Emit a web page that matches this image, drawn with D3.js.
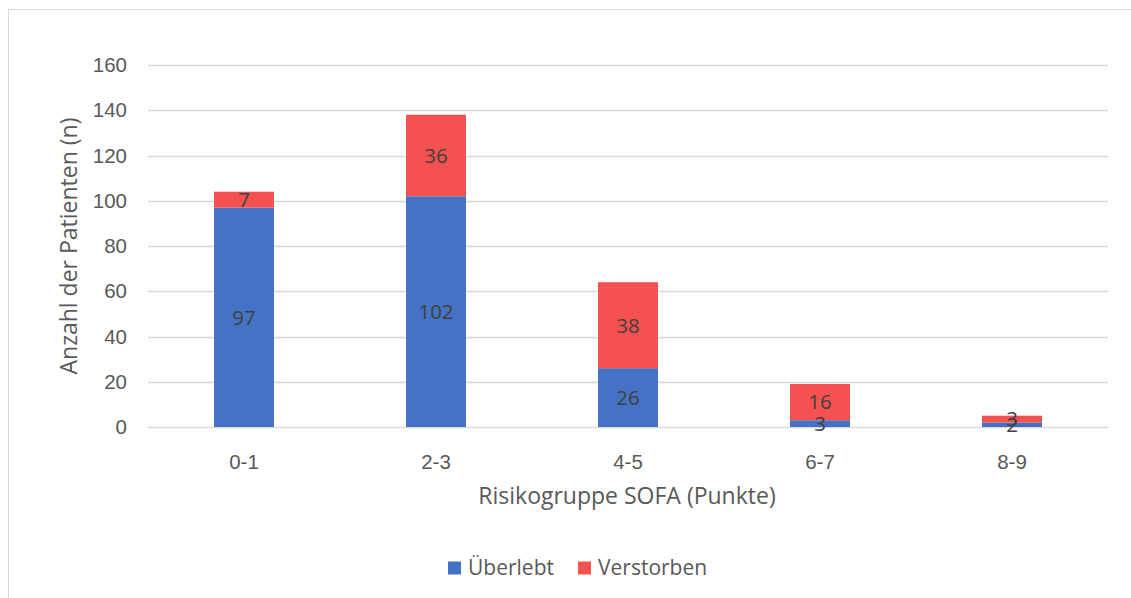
<!DOCTYPE html>
<html>
<head>
<meta charset="utf-8">
<script src="https://cdn.jsdelivr.net/npm/d3@7"></script>
<style>
  html, body { margin: 0; padding: 0; background: #fff; }
  svg { display: block; font-family: "Open Sans", "Noto Sans", sans-serif; }
</style>
</head>
<body>
<svg id="chart" width="1131" height="598"></svg>
<script>
// SOFA risk groups and patient counts
const categories = ["0-1", "2-3", "4-5", "6-7", "8-9"];
const survived = [97, 102, 26, 3, 2];
const deceased = [7, 36, 38, 16, 3];
const yTicks = [0, 20, 40, 60, 80, 100, 120, 140, 160];
const seriesNames = ["Überlebt", "Verstorben"];
const seriesColors = ["#4472C4", "#F55150"];

const svg = d3.select("#chart");
const W = 1131, H = 598;

// chart frame (right and bottom edges run past the canvas)
svg.append("rect")
  .attr("x", 8.5).attr("y", 9.5)
  .attr("width", W + 10).attr("height", H + 10)
  .attr("fill", "none").attr("stroke", "#d9d9d9").attr("stroke-width", 1);

const plot = { left: 148, right: 1108, top: 65, bottom: 427 };

const x = d3.scaleBand()
  .domain(categories)
  .range([plot.left, plot.right])
  .paddingInner(0.6875)
  .paddingOuter(0.34375);

const y = d3.scaleLinear().domain([0, 160]).range([plot.bottom, plot.top]);

// gridlines
svg.append("g")
  .selectAll("line")
  .data(yTicks)
  .join("line")
  .attr("x1", plot.left).attr("x2", plot.right)
  .attr("y1", d => Math.round(y(d)) + 0.5).attr("y2", d => Math.round(y(d)) + 0.5)
  .attr("stroke", "#d9d9d9").attr("stroke-width", 1.3);

// y axis tick labels
const yAxis = d3.axisLeft(y).tickValues(yTicks).tickSize(0).tickPadding(0);
const gy = svg.append("g").attr("transform", `translate(${plot.left - 21},0)`).call(yAxis);
gy.select(".domain").remove();
gy.selectAll("text")
  .attr("fill", "#595959").style("font-size", "20.5px").style("font-family", "inherit");

// x axis tick labels
const xAxis = d3.axisBottom(x).tickSize(0).tickPadding(0);
const gx = svg.append("g").attr("transform", `translate(0,${plot.bottom + 27})`).call(xAxis);
gx.select(".domain").remove();
gx.selectAll("text")
  .attr("fill", "#595959").style("font-size", "20.5px").style("font-family", "inherit");

// stacked bars
const rows = categories.map((c, i) => ({ cat: c, "Überlebt": survived[i], "Verstorben": deceased[i] }));
const stack = d3.stack().keys(seriesNames)(rows);

const layers = svg.append("g").selectAll("g")
  .data(stack)
  .join("g")
  .attr("fill", (d, i) => seriesColors[i]);

layers.selectAll("rect")
  .data(d => d)
  .join("rect")
  .attr("x", d => x(d.data.cat))
  .attr("width", x.bandwidth())
  .attr("y", d => y(d[1]))
  .attr("height", d => y(d[0]) - y(d[1]));

// value labels centred in each segment
const labels = svg.append("g");
stack.forEach(layer => {
  layer.forEach(d => {
    labels.append("text")
      .attr("x", x(d.data.cat) + x.bandwidth() / 2)
      .attr("y", y((d[0] + d[1]) / 2))
      .attr("dy", "0.36em")
      .attr("text-anchor", "middle")
      .attr("fill", "#404040")
      .style("font-size", "20.5px")
      .text(d[1] - d[0]);
  });
});

// axis titles
svg.append("text")
  .attr("x", 627)
  .attr("y", 504)
  .attr("text-anchor", "middle")
  .attr("fill", "#595959")
  .style("font-size", "23px")
  .text("Risikogruppe SOFA (Punkte)");

svg.append("text")
  .attr("transform", `translate(77,${(plot.top + plot.bottom) / 2}) rotate(-90)`)
  .attr("text-anchor", "middle")
  .attr("fill", "#595959")
  .style("font-size", "23px")
  .text("Anzahl der Patienten (n)");

// legend
const legendItems = [
  { name: seriesNames[0], color: seriesColors[0], x: 448 },
  { name: seriesNames[1], color: seriesColors[1], x: 578 }
];
const lg = svg.append("g");
legendItems.forEach(it => {
  lg.append("rect")
    .attr("x", it.x).attr("y", 561.5)
    .attr("width", 13).attr("height", 13)
    .attr("fill", it.color);
  lg.append("text")
    .attr("x", it.x + 20).attr("y", 574.5)
    .attr("fill", "#595959")
    .style("font-size", "21px")
    .text(it.name);
});
</script>
</body>
</html>
